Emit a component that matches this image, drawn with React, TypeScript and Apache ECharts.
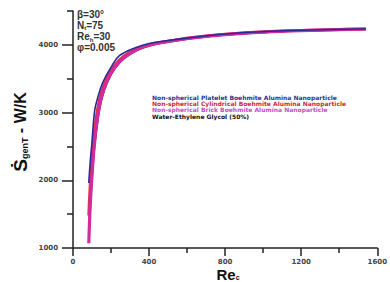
import { useEffect, useRef } from 'react';
import * as echarts from 'echarts';

const legendNames = [
  'Non-spherical Platelet Boehmite Alumina Nanoparticle',
  'Non-spherical Cylindrical Boehmite Alumina Nanoparticle',
  'Non-spherical Brick Boehmite Alumina Nanoparticle',
  'Water-Ethylene Glycol (50%)',
];
const legendColors = ['#2a3594', '#cc2a3c', '#c84cc4', '#111111'];
const lineColors = ['#2b2a96', '#e0304c', '#d42a9e', '#222222'];

const rePlatelet = [83, 90, 99, 114, 130, 156, 200, 244, 332, 400, 504, 600, 800, 1000, 1200, 1400, 1540];
const sPlatelet = [1960, 2250, 2540, 3030, 3220, 3440, 3670, 3840, 3960, 4020, 4065, 4100, 4160, 4195, 4215, 4228, 4237];

const reCylindrical = [83, 90, 99, 112, 130, 150, 180, 220, 270, 340, 420, 520, 640, 800, 1000, 1200, 1400, 1540];
const sCylindrical = [1480, 1900, 2280, 2700, 3060, 3300, 3520, 3700, 3840, 3945, 4015, 4063, 4112, 4157, 4191, 4213, 4227, 4236];

const reBrick = [83, 90, 99, 112, 130, 150, 180, 220, 270, 340, 420, 520, 640, 800, 1000, 1200, 1400, 1540];
const sBrick = [1070, 1600, 2040, 2520, 2940, 3230, 3470, 3670, 3815, 3935, 4008, 4058, 4106, 4152, 4189, 4211, 4225, 4234];

const reWater = [84, 90, 99, 112, 130, 150, 180, 220, 270, 340, 420, 520, 640, 800, 1000, 1200, 1400, 1540];
const sWater = [1200, 1580, 2000, 2480, 2900, 3200, 3450, 3655, 3805, 3925, 4000, 4052, 4100, 4148, 4186, 4209, 4223, 4232];

const yMajorTicks = [1000, 2000, 3000, 4000];
const yMinorTicks = [1500, 2500, 3500, 4500];

const paramLines = [
  '{t|β=30°}',
  '{t|N}{s|t}{t|=75}',
  '{t|Re}{s|h}{t|=30}',
  '{t|φ=0.005}',
];

function pairs(xs: number[], ys: number[]) {
  return xs.map((x, i) => [x, ys[i]]);
}

export default function App() {
  const ref = useRef<HTMLDivElement>(null);
  useEffect(() => {
    if (!ref.current) return;
    const chart = echarts.init(ref.current, null, { renderer: 'svg' });
    const font = 'Liberation Sans, Arial, sans-serif';
    const grid = { left: 73, right: 8, top: 11, bottom: 34 };
    const seriesDefs = [
      { name: legendNames[3], data: pairs(reWater, sWater), color: lineColors[3], width: 2 },
      { name: legendNames[1], data: pairs(reCylindrical, sCylindrical), color: lineColors[1], width: 3 },
      { name: legendNames[2], data: pairs(reBrick, sBrick), color: lineColors[2], width: 3.2 },
      { name: legendNames[0], data: pairs(rePlatelet, sPlatelet), color: lineColors[0], width: 1.6 },
    ];
    const plain = (v: number) => String(v);
    chart.setOption({
      animation: false,
      grid,
      legend: {
        orient: 'vertical',
        left: 147,
        top: 94,
        icon: 'none',
        itemWidth: 0,
        itemHeight: 6,
        itemGap: 0.4,
        padding: 0,
        selectedMode: false,
        data: legendNames.map((n, i) => ({
          name: n,
          textStyle: { color: legendColors[i] },
        })),
        textStyle: { fontSize: 6, fontWeight: 'bold', fontFamily: 'DejaVu Sans', lineHeight: 6 },
      },
      xAxis: {
        type: 'value',
        min: 0,
        max: 1600,
        interval: 400,
        axisLine: { lineStyle: { color: '#222', width: 1.5 } },
        axisTick: { length: 8, lineStyle: { color: '#222', width: 1.5 } },
        minorTick: { show: true, splitNumber: 2, length: 5, lineStyle: { color: '#222', width: 1.5 } },
        splitLine: { show: false },
        axisLabel: { formatter: plain, fontSize: 7, fontWeight: 'bold', color: '#444', fontFamily: 'DejaVu Sans', margin: 10 },
      },
      yAxis: [
        {
          type: 'value',
          min: 1000,
          max: 4500,
          position: 'left',
          axisLine: { show: true, lineStyle: { color: '#222', width: 1.5 } },
          axisTick: { show: true, customValues: yMajorTicks, length: 11, lineStyle: { color: '#222', width: 1.5 } },
          splitLine: { show: false },
          axisLabel: {
            customValues: yMajorTicks,
            formatter: plain,
            fontSize: 7,
            fontWeight: 'bold',
            color: '#444',
            fontFamily: 'DejaVu Sans',
            margin: 15,
          },
        },
        {
          type: 'value',
          min: 1000,
          max: 4500,
          position: 'left',
          axisLine: { show: false },
          axisTick: { show: true, customValues: yMinorTicks, length: 6, lineStyle: { color: '#222', width: 1.5 } },
          splitLine: { show: false },
          axisLabel: { show: false },
        },
      ],
      series: seriesDefs.map((s) => ({
        type: 'line',
        name: s.name,
        data: s.data,
        yAxisIndex: 0,
        smooth: 0.4,
        showSymbol: false,
        symbol: 'none',
        color: s.color,
        lineStyle: { color: s.color, width: s.width },
      })),
      graphic: [
        ...paramLines.map((t, i) => ({
          type: 'text',
          left: 77,
          top: 9 + i * 11.3,
          style: {
            text: t,
            rich: {
              t: { fontSize: 10, fontWeight: 'bold', fontFamily: font, fill: '#333' },
              s: { fontSize: 6, fontWeight: 'bold', fontFamily: font, fill: '#333', padding: [6, 0, 0, 0] },
            },
          },
        })),
        {
          type: 'text',
          x: 20,
          y: 132,
          rotation: Math.PI / 2,
          style: {
            text: '{a|Ṡ}{b|genT}{a2| - W/K}',
            align: 'center',
            verticalAlign: 'middle',
            rich: {
              a: { fontSize: 19, fontWeight: 'bold', fontFamily: font, fill: '#111' },
              b: { fontSize: 9, fontWeight: 'bold', fontFamily: font, fill: '#111', padding: [9, 0, 0, 0] },
              a2: { fontSize: 16, fontWeight: 'bold', fontFamily: font, fill: '#111' },
            },
          },
        },
        {
          type: 'text',
          x: 228,
          y: 274,
          style: {
            text: '{a|Re}{b|c}',
            align: 'center',
            verticalAlign: 'middle',
            rich: {
              a: { fontSize: 15, fontWeight: 'bold', fontFamily: font, fill: '#111' },
              b: { fontSize: 7, fontWeight: 'bold', fontFamily: font, fill: '#111', padding: [6, 0, 0, 0] },
            },
          },
        },
      ],
    });
    return () => chart.dispose();
  }, []);
  return (
    <div
      ref={ref}
      style={{ position: 'fixed', left: 0, top: 0, width: 390, height: 282, background: '#fff' }}
    />
  );
}
